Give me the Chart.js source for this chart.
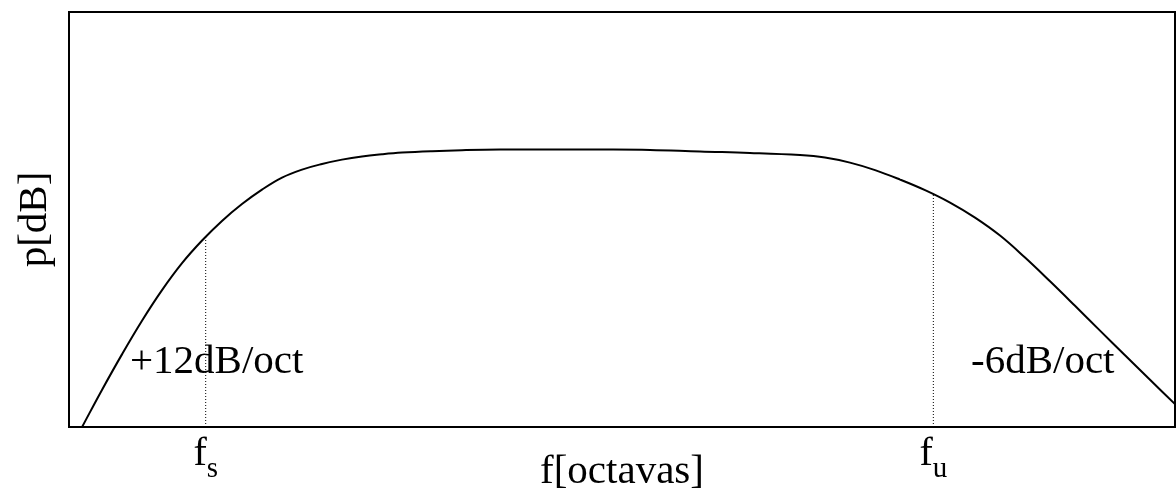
<!DOCTYPE html>
<html lang="es">
<head>
<meta charset="UTF-8"/>
<title>Respuesta en frecuencia</title>
<script src="https://cdn.jsdelivr.net/npm/chart.js@4"></script>
<style>
  html,body{margin:0;padding:0;background:#fff;}
  .wrap{width:1176px;height:491px;position:relative;}
</style>
</head>
<body>
<div class="wrap"><canvas id="resp"></canvas></div>
<script>
  // curve: x in octaves (0..10), y in dB (0..40)
  const freqOct=[0.118,0.298,0.479,0.660,0.841,1.022,1.203,1.383,1.564,1.745,1.926,2.107,2.288,2.468,2.649,2.830,3.011,3.282,3.553,3.897,
                 4.801,5.253,5.705,6.157,6.609,6.835,7.061,7.288,7.514,7.740,7.966,8.192,8.418,8.644,8.870,9.096,9.322,9.548,9.774,10.0];
  const levelDb=[0,3.57,7.00,10.24,13.19,15.79,17.97,19.86,21.49,22.88,24.04,24.81,25.35,25.77,26.08,26.29,26.45,26.59,26.68,26.74,
                 26.74,26.71,26.55,26.42,26.21,25.97,25.48,24.76,23.85,22.83,21.63,20.18,18.45,16.33,14.04,11.68,9.29,6.91,4.55,2.21];

  // cut-off frequencies (f_s, f_u) and the level where the dotted marker meets the curve
  const cutoffSub=['s','u'];
  const cutoffOct=[1.236,7.815];
  const cutoffDb=[18.31,22.4];

  const slopeText=['+12dB/oct','-6dB/oct'];
  const xTitle='f[octavas]';
  const yTitle='p[dB]';

  const serif='"Liberation Serif", "Times New Roman", serif';

  const curve=freqOct.map((f,i)=>({x:f,y:levelDb[i]}));
  const markers=cutoffOct.map((f,i)=>({
    data:[{x:f,y:0},{x:f,y:cutoffDb[i]}],
    borderColor:'#000',borderWidth:1,borderDash:[1,2],pointRadius:0,tension:0
  }));

  // text labels drawn on top of the chart
  const labelPlugin={
    id:'labels',
    afterDraw(chart){
      const {ctx,chartArea:a,scales:{x}}=chart;
      ctx.save();
      ctx.fillStyle='#000';
      ctx.textBaseline='alphabetic';

      // slope notes
      ctx.font='41px '+serif;
      ctx.textAlign='left';
      ctx.fillText(slopeText[0],130,a.bottom-54);
      ctx.fillText(slopeText[1],971,a.bottom-54);

      // axis titles
      ctx.textAlign='center';
      ctx.fillText(xTitle,(a.left+a.right)/2,a.bottom+56);
      ctx.save();
      ctx.translate(46,(a.top+a.bottom)/2);
      ctx.rotate(-Math.PI/2);
      ctx.fillText(yTitle,0,0);
      ctx.restore();

      // f_s / f_u under the markers
      cutoffOct.forEach((f,i)=>{
        const px=x.getPixelForValue(f);
        ctx.font='40px '+serif;
        const wf=ctx.measureText('f').width;
        ctx.font='29px '+serif;
        const ws=ctx.measureText(cutoffSub[i]).width;
        const x0=px-(wf+ws)/2;
        ctx.textAlign='left';
        ctx.font='40px '+serif;
        ctx.fillText('f',x0,a.bottom+38);
        ctx.font='29px '+serif;
        ctx.fillText(cutoffSub[i],x0+wf,a.bottom+50);
      });
      ctx.restore();
    }
  };

  const edge={display:false,drawTicks:false};
  const border={display:true,color:'#000',width:2};

  new Chart(document.getElementById('resp'),{
    type:'line',
    data:{datasets:[
      {data:curve,borderColor:'#000',borderWidth:2,pointRadius:0,tension:0.4},
      ...markers
    ]},
    options:{
      responsive:true,maintainAspectRatio:false,animation:false,
      layout:{padding:{left:69,top:12,right:1,bottom:64}},
      plugins:{legend:{display:false},tooltip:{enabled:false}},
      scales:{
        x:{type:'linear',min:0,max:10,ticks:{display:false},grid:edge,border:border},
        x2:{type:'linear',position:'top',min:0,max:10,ticks:{display:false},grid:edge,border:border},
        y:{type:'linear',min:0,max:40,ticks:{display:false},grid:edge,border:border},
        y2:{type:'linear',position:'right',min:0,max:40,ticks:{display:false},grid:edge,border:border}
      }
    },
    plugins:[labelPlugin]
  });
</script>
</body>
</html>
